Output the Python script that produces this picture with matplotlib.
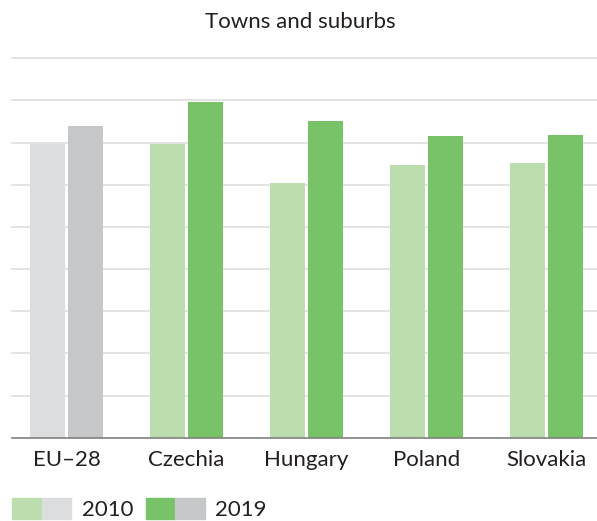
import matplotlib
matplotlib.use("Agg")
import matplotlib.pyplot as plt
from matplotlib.patches import Patch
from matplotlib.legend_handler import HandlerTuple
import numpy as np

plt.rcParams['font.family'] = ['Lato', 'DejaVu Sans']

title = "Towns and suburbs"
categories = ["EU\u201328", "Czechia", "Hungary", "Poland", "Slovakia"]
years = ["2010", "2019"]
values_2010 = [69.7, 69.7, 60.4, 64.7, 65.2]
values_2019 = [73.9, 79.6, 75.1, 71.6, 71.8]

col_2010 = ["#dcdddf", "#bcddad", "#bcddad", "#bcddad", "#bcddad"]
col_2019 = ["#c6c7c9", "#78c268", "#78c268", "#78c268", "#78c268"]

fig = plt.figure(figsize=(5.97, 5.21), dpi=100)
W, H = 597, 521
ax = fig.add_axes([12 / W, 1 - 437.7 / H, 585 / W, (437.7 - 58.3) / H])

x = np.arange(len(categories))
bw = 35 / 120
off = 19 / 120
ax.bar(x - off, values_2010, width=bw, color=col_2010, zorder=3)
ax.bar(x + off, values_2019, width=bw, color=col_2019, zorder=3)

ax.set_xlim((12 - 66.5) / 120, (597 - 66.5) / 120)
ax.set_ylim(0, 90)
ax.set_yticks(np.arange(10, 91, 10))
ax.yaxis.grid(True, color="#e2e2e2", linewidth=1.3, zorder=0)
for ln in ax.get_ygridlines():
    ln.set_clip_on(False)
ax.tick_params(axis='y', left=False, labelleft=False)
ax.set_xticks(x)
ax.set_xticklabels(categories, fontsize=16, color="#231f20")
ax.tick_params(axis='x', length=0, pad=9)
for s in ["top", "right", "left"]:
    ax.spines[s].set_visible(False)
ax.spines["bottom"].set_color("#808080")
ax.spines["bottom"].set_linewidth(1.2)
ax.spines["bottom"].set_zorder(4)

fig.text(300 / W, 1 - 21.5 / H, title, ha="center", va="center", fontsize=16, color="#231f20")

handles = [(Patch(color=col_2010[1]), Patch(color=col_2010[0])),
           (Patch(color=col_2019[1]), Patch(color=col_2019[0]))]
fs = 16
px = fs * 100 / 72
leg = fig.legend(handles, years, handler_map={tuple: HandlerTuple(ndivide=None, pad=0)},
                 loc="lower left", bbox_to_anchor=(12 / W, 1 / H), ncol=2, frameon=False,
                 fontsize=fs, handlelength=59 / px, handleheight=23 / px,
                 handletextpad=11 / px, columnspacing=12 / px, borderpad=0, borderaxespad=0,
                 labelcolor="#231f20")

fig.savefig("out.png", dpi=100)
